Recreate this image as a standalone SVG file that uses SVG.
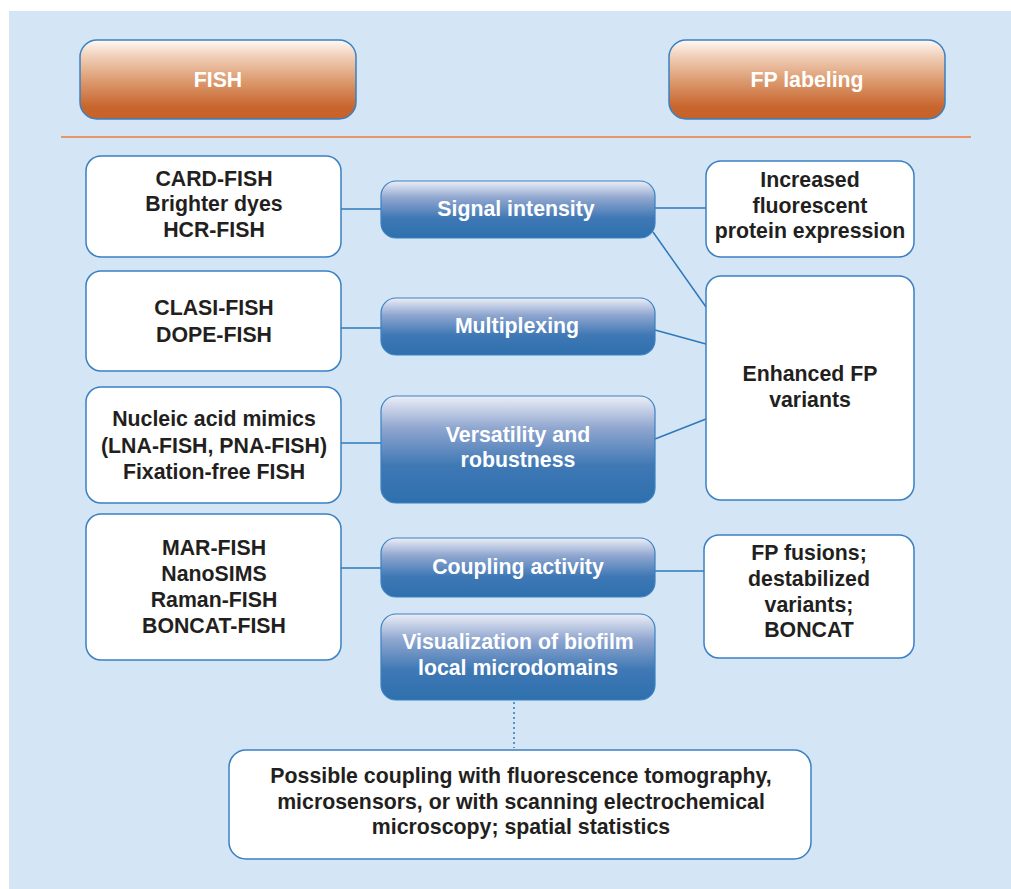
<svg xmlns="http://www.w3.org/2000/svg" width="1011" height="889" viewBox="0 0 1011 889">
<defs>
<linearGradient id="gOrange" x1="0" y1="0" x2="0" y2="1">
<stop offset="0" stop-color="#fefaf6"/>
<stop offset="0.18" stop-color="#f2d4bf"/>
<stop offset="0.5" stop-color="#dd9d73"/>
<stop offset="0.85" stop-color="#c8652d"/>
<stop offset="1" stop-color="#c6612a"/>
</linearGradient>
<linearGradient id="gBlue" x1="0" y1="0" x2="0" y2="1">
<stop offset="0" stop-color="#eceef7"/>
<stop offset="0.3" stop-color="#8fa6cf"/>
<stop offset="0.65" stop-color="#3f78b5"/>
<stop offset="1" stop-color="#2d70ad"/>
</linearGradient>
<style>
.hdr{fill:url(#gOrange);stroke:#3a80c2;stroke-width:1.5}
.mid{fill:url(#gBlue);stroke:#3a80c2;stroke-width:1.2}
.box{fill:#ffffff;stroke:#3a80c2;stroke-width:1.5}
.t{font-family:"Liberation Sans",Arial,Helvetica,sans-serif;font-weight:bold;font-size:21.3px;text-anchor:middle}
.dk{fill:#231f20}
.wt{fill:#ffffff}
.con{stroke:#2e78bb;stroke-width:1.5;fill:none}
</style>
</defs>
<rect x="9" y="11" width="1002" height="878" fill="#d4e6f5"/>
<line x1="61" y1="137" x2="971" y2="137" stroke="#e8956a" stroke-width="2"/>

<g id="connectors">
<line class="con" x1="341" y1="209" x2="381" y2="209"/>
<line class="con" x1="655" y1="208" x2="706" y2="208"/>
<line class="con" x1="653" y1="232" x2="706" y2="307"/>
<line class="con" x1="341" y1="328" x2="381" y2="328"/>
<line class="con" x1="655" y1="330" x2="706" y2="344"/>
<line class="con" x1="341" y1="443" x2="381" y2="443"/>
<line class="con" x1="655" y1="439" x2="706" y2="419"/>
<line class="con" x1="341" y1="568" x2="381" y2="568"/>
<line class="con" x1="655" y1="571" x2="704" y2="571"/>
<line class="con" x1="514" y1="702" x2="514" y2="748" stroke-dasharray="2 3"/>
</g>

<g id="fish">
<rect class="hdr" x="80" y="40" width="276" height="79" rx="17"/>
<text class="t wt" x="218" y="87">FISH</text>
</g>
<g id="fp-labeling">
<rect class="hdr" x="669" y="40" width="276" height="79" rx="17"/>
<text class="t wt" x="807" y="87">FP labeling</text>
</g>

<g id="card-fish">
<rect class="box" x="86" y="156" width="255" height="101" rx="15"/>
<text class="t dk" x="214" y="186">CARD-FISH</text>
<text class="t dk" x="214" y="211">Brighter dyes</text>
<text class="t dk" x="214" y="237">HCR-FISH</text>
</g>
<g id="clasi-fish">
<rect class="box" x="86" y="271" width="255" height="100" rx="15"/>
<text class="t dk" x="214" y="315">CLASI-FISH</text>
<text class="t dk" x="214" y="342">DOPE-FISH</text>
</g>
<g id="nucleic">
<rect class="box" x="86" y="387" width="255" height="116" rx="15"/>
<text class="t dk" x="214" y="426">Nucleic acid mimics</text>
<text class="t dk" x="214" y="453">(LNA-FISH, PNA-FISH)</text>
<text class="t dk" x="214" y="479">Fixation-free FISH</text>
</g>
<g id="mar-fish">
<rect class="box" x="86" y="514" width="255" height="146" rx="15"/>
<text class="t dk" x="214" y="555">MAR-FISH</text>
<text class="t dk" x="214" y="581">NanoSIMS</text>
<text class="t dk" x="214" y="607">Raman-FISH</text>
<text class="t dk" x="214" y="633">BONCAT-FISH</text>
</g>

<g id="signal-intensity">
<rect class="mid" x="381" y="181" width="274" height="57" rx="15"/>
<text class="t wt" x="516" y="216">Signal intensity</text>
</g>
<g id="multiplexing">
<rect class="mid" x="381" y="298" width="274" height="57" rx="15"/>
<text class="t wt" x="517" y="333">Multiplexing</text>
</g>
<g id="versatility">
<rect class="mid" x="381" y="396" width="274" height="107" rx="15"/>
<text class="t wt" x="518" y="442">Versatility and</text>
<text class="t wt" x="518" y="467">robustness</text>
</g>
<g id="coupling-activity">
<rect class="mid" x="381" y="538" width="274" height="59" rx="15"/>
<text class="t wt" x="518" y="574">Coupling activity</text>
</g>
<g id="visualization">
<rect class="mid" x="381" y="614" width="274" height="86" rx="15"/>
<text class="t wt" x="518" y="649">Visualization of biofilm</text>
<text class="t wt" x="518" y="675">local microdomains</text>
</g>

<g id="increased-fp">
<rect class="box" x="706" y="161" width="208" height="96" rx="15"/>
<text class="t dk" x="810" y="187">Increased</text>
<text class="t dk" x="810" y="213">fluorescent</text>
<text class="t dk" x="810" y="238">protein expression</text>
</g>
<g id="enhanced-fp">
<rect class="box" x="706" y="276" width="208" height="224" rx="15"/>
<text class="t dk" x="810" y="381">Enhanced FP</text>
<text class="t dk" x="810" y="407">variants</text>
</g>
<g id="fp-fusions">
<rect class="box" x="704" y="535" width="210" height="123" rx="15"/>
<text class="t dk" x="809" y="560">FP fusions;</text>
<text class="t dk" x="809" y="586">destabilized</text>
<text class="t dk" x="809" y="612">variants;</text>
<text class="t dk" x="809" y="637">BONCAT</text>
</g>

<g id="possible-coupling">
<rect class="box" x="229" y="750" width="582" height="109" rx="17"/>
<text class="t dk" x="521" y="783">Possible coupling with fluorescence tomography,</text>
<text class="t dk" x="521" y="809">microsensors, or with scanning electrochemical</text>
<text class="t dk" x="521" y="834">microscopy; spatial statistics</text>
</g>
</svg>
